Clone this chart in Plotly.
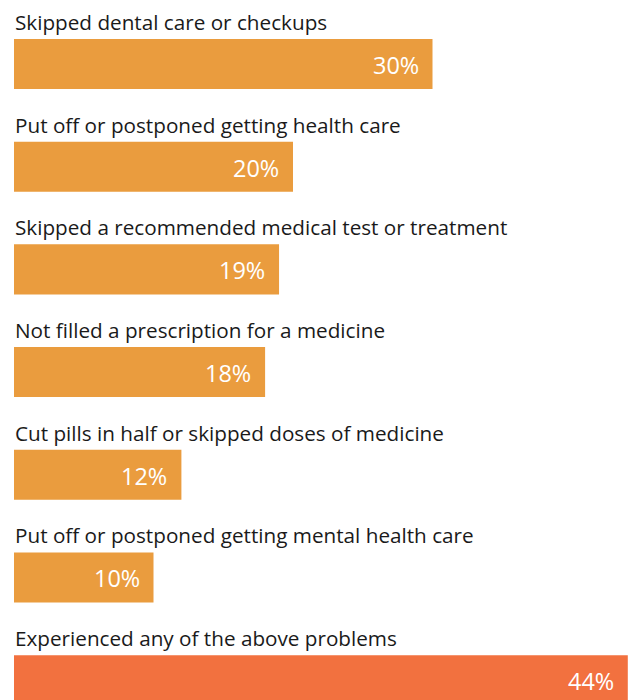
import plotly.graph_objects as go

categories = [
    "Skipped dental care or checkups",
    "Put off or postponed getting health care",
    "Skipped a recommended medical test or treatment",
    "Not filled a prescription for a medicine",
    "Cut pills in half or skipped doses of medicine",
    "Put off or postponed getting mental health care",
    "Experienced any of the above problems",
]
values = [30, 20, 19, 18, 12, 10, 44]
colors = ["#EA9C3E"] * 6 + ["#F2713F"]

FONT = "Open Sans"
pos = list(range(len(categories)))

fig = go.Figure(go.Bar(
    x=values, y=pos, orientation="h",
    marker=dict(color=colors, line=dict(width=0)),
    width=0.487, hoverinfo="skip",
))

ann = []
for i, (c, v) in enumerate(zip(categories, values)):
    ann.append(dict(x=0, y=i, xref="x", yref="y", text=c, showarrow=False,
                    xanchor="left", yanchor="middle", xshift=-1, yshift=42,
                    font=dict(family=FONT, size=20.7, color="#1a1a1a")))
    ann.append(dict(x=v, y=i, xref="x", yref="y", text=f"{v}%", showarrow=False,
                    xanchor="right", yanchor="middle", xshift=-12, yshift=-1,
                    font=dict(family=FONT, size=23.5, color="white")))

fig.update_layout(
    width=629, height=700,
    margin=dict(l=0, r=0, t=0, b=0),
    paper_bgcolor="white", plot_bgcolor="white",
    showlegend=False,
    xaxis=dict(range=[-14/13.95, 615/13.95], visible=False, fixedrange=True),
    yaxis=dict(range=[6.193, -0.623], visible=False, fixedrange=True),
    annotations=ann,
)
fig.write_html("out.html")
